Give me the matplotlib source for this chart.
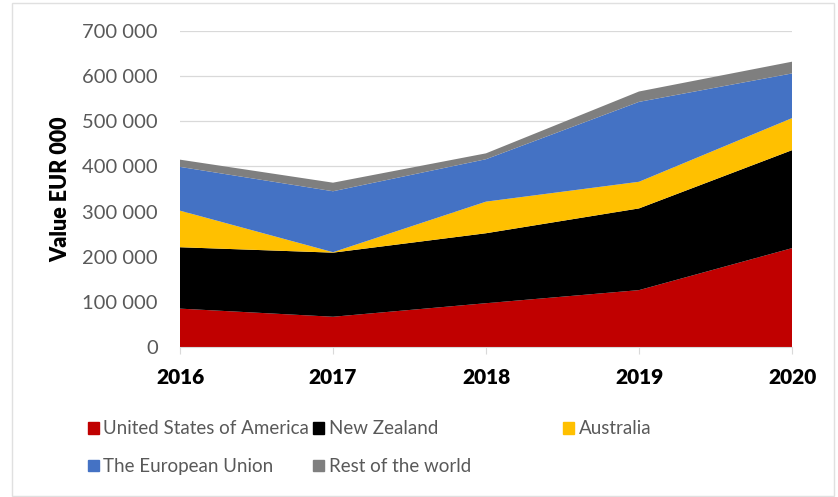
import matplotlib
matplotlib.use('Agg')
import matplotlib.pyplot as plt
from matplotlib.patches import Rectangle, Patch
from matplotlib.ticker import FuncFormatter

years = [2016, 2017, 2018, 2019, 2020]
usa = [85000, 67000, 97000, 126000, 219000]
new_zealand = [136000, 142000, 155000, 181000, 217000]
australia = [81000, 1000, 70000, 59000, 71000]
eu = [97000, 135000, 94000, 177000, 99000]
rest = [16000, 19000, 13000, 23000, 26000]

names = ['United States of America', 'New Zealand', 'Australia',
         'The European Union', 'Rest of the world']
colors = ['#c00000', '#000000', '#ffc000', '#4472c4', '#7f7f7f']

plt.rcParams['font.family'] = ['Lato', 'DejaVu Sans']

fig = plt.figure(figsize=(8.38, 4.97), dpi=100)
ax = fig.add_axes([180 / 838, 1 - 347 / 497, 612 / 838, 316 / 497])

x = list(range(len(years)))
ax.stackplot(x, usa, new_zealand, australia, eu, rest, colors=colors,
             linewidth=0, zorder=2)

ax.set_xlim(0, len(years) - 1)
ax.set_ylim(0, 700000)
ax.set_yticks(range(0, 700001, 100000))
ax.yaxis.set_major_formatter(FuncFormatter(lambda v, p: f'{int(v):,}'.replace(',', ' ')))
ax.set_xticks(x)
ax.set_xticklabels([str(y) for y in years], fontsize=15, fontweight='heavy')
ax.grid(axis='y', color='#d9d9d9', linewidth=0.9, zorder=0)
ax.set_axisbelow(True)

for s in ['top', 'right', 'left']:
    ax.spines[s].set_visible(False)
ax.spines['bottom'].set_color('#d9d9d9')
ax.spines['bottom'].set_zorder(3)
ax.tick_params(axis='y', length=0, pad=16, labelsize=14.5, labelcolor='#595959')
ax.tick_params(axis='x', length=5, color='#d9d9d9', pad=10)

ax.set_ylabel('Value EUR 000', fontsize=15.5, fontweight='heavy')
ax.yaxis.set_label_coords(-0.178, 0.5)

# legend: two columns plus Australia on its own
h = [Patch(color=c) for c in colors]
leg_kw = dict(frameon=False, fontsize=13.5, labelcolor='#595959',
              handlelength=0.6, handleheight=0.6, handletextpad=0.25,
              borderaxespad=0)
fig.legend([h[0], h[3], h[1], h[4]], [names[0], names[3], names[1], names[4]],
           ncol=2, loc='upper left', bbox_to_anchor=(80 / 838, 1 - 413 / 497),
           columnspacing=0.2, labelspacing=1.1, **leg_kw)
fig.legend([h[2]], [names[2]], loc='upper left',
           bbox_to_anchor=(555 / 838, 1 - 413 / 497), **leg_kw)

fig.patches.append(Rectangle((12 / 838, 1 / 497), 822 / 838, 493 / 497,
                             transform=fig.transFigure, fill=False,
                             edgecolor='#e0e0e0', linewidth=1))

fig.savefig('out.png', dpi=100)
